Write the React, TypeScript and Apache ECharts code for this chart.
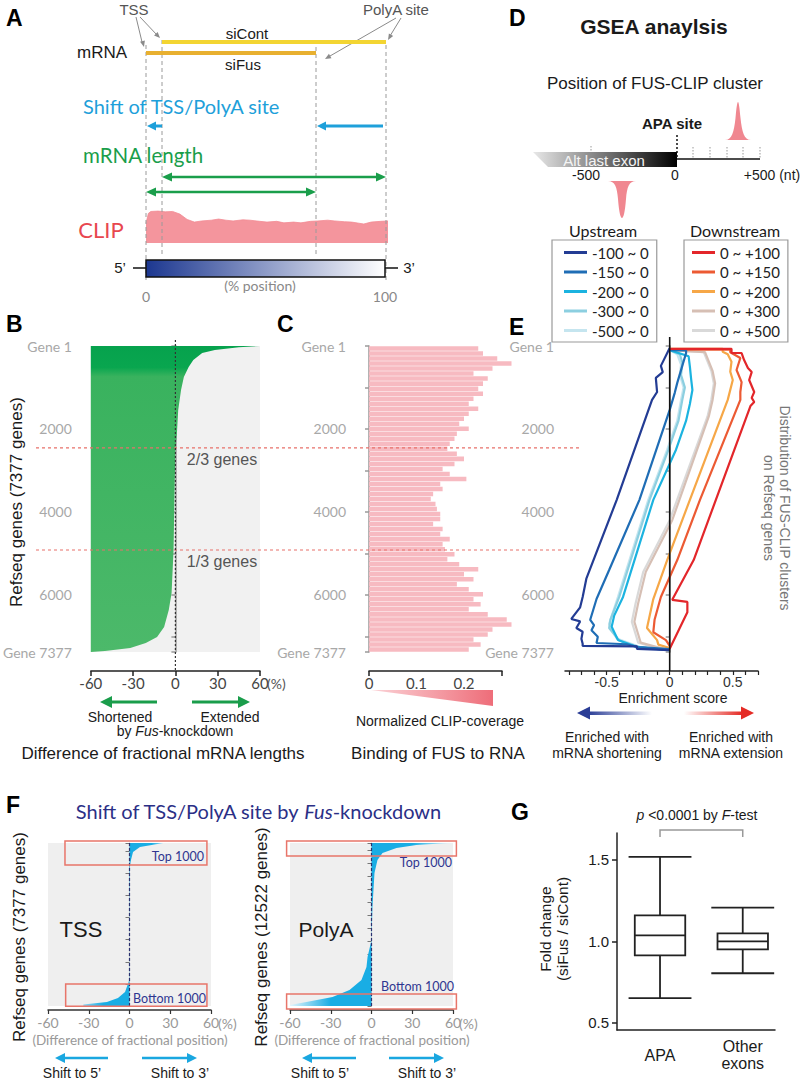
import React, { useEffect, useRef } from "react";
import * as echarts from "echarts";

const ARIAL = "'Liberation Sans', Arial, Helvetica, sans-serif";
const CALI = "Lato, 'Open Sans', sans-serif";

// ---------------- Panel A: CLIP coverage along mRNA (% position) ----------------
const clipPosition = [0, 1, 2, 5, 8, 11, 14, 17, 20, 23, 27, 30, 33, 36, 40, 43, 47, 50, 54, 57, 61, 64, 68, 71, 75, 78, 82, 85, 88, 90, 93, 97, 100];
const clipCoverage = [0.52, 0.78, 0.83, 0.84, 0.82, 0.83, 0.76, 0.62, 0.55, 0.58, 0.6, 0.63, 0.6, 0.58, 0.61, 0.6, 0.57, 0.55, 0.57, 0.53, 0.55, 0.53, 0.57, 0.58, 0.6, 0.58, 0.56, 0.55, 0.52, 0.5, 0.55, 0.57, 0.58];

// ---------------- Panel B: difference of fractional mRNA lengths ----------------
const geneTotal = 7377;
const geneLabelTicks = [1, 2000, 4000, 6000, 7377];
const geneTickMarks = [1, 1000, 2000, 3000, 4000, 5000, 6000, 7000, 7377];
const lengthRank = [1, 30, 96, 169, 337, 506, 747, 1060, 1542, 2097, 2482, 3711, 4916, 5953, 6362, 6772, 7013, 7158, 7278, 7350, 7377];
const lengthDiff = [60, 45, 28, 19, 12.7, 9.4, 6, 4, 2, 1.1, 0, -0.7, -1.3, -2.7, -4.7, -8, -13, -21, -32, -50, -60];

// ---------------- Panel C: normalized CLIP coverage per gene bin ----------------
const clipCoverageByGene = [
  0.23, 0.24, 0.27, 0.3, 0.26, 0.22, 0.25, 0.24, 0.23, 0.24,
  0.22, 0.21, 0.23, 0.21, 0.2, 0.19, 0.21, 0.185, 0.18, 0.17,
  0.165, 0.185, 0.2, 0.18, 0.155, 0.17, 0.205, 0.15, 0.155, 0.135,
  0.13, 0.14, 0.143, 0.15, 0.15, 0.135, 0.155, 0.15, 0.17, 0.155,
  0.16, 0.18, 0.165, 0.19, 0.23, 0.2, 0.22, 0.185, 0.21, 0.24,
  0.22, 0.235, 0.21, 0.25, 0.29, 0.3, 0.26, 0.25, 0.22, 0.235,
  0.21,
];
const clipBins = clipCoverageByGene.map((_, i) => `bin${i + 1}`);

// ---------------- Panel E: GSEA running enrichment score [score, gene rank] ----------------
const upNames = ["-100 ~ 0", "-150 ~ 0", "-200 ~ 0", "-300 ~ 0", "-500 ~ 0"];
const downNames = ["0 ~ +100", "0 ~ +150", "0 ~ +200", "0 ~ +300", "0 ~ +500"];
const upColors = ["#233c94", "#1f6db5", "#1bb3e0", "#8ccfe0", "#c5e5ef"];
const downColors = ["#e3262a", "#ec5a33", "#f6a747", "#d6bfb4", "#d9d9d9"];
const esUp100 = [[0, 50], [-0.07, 480], [-0.055, 630], [-0.11, 770], [-0.1, 1110], [-0.14, 1300], [-0.42, 3710], [-0.66, 5600], [-0.69, 6050], [-0.71, 6300], [-0.78, 6580], [-0.71, 6640], [-0.74, 6800], [-0.69, 6890], [-0.7, 7060], [-0.69, 7180], [-0.69, 7230], [-0.26, 7240], [-0.26, 7300], [0, 7330]];
const esUp150 = [[0, 100], [0.13, 110], [0.13, 170], [0.06, 890], [0.04, 1130], [0, 1540], [-0.24, 3710], [-0.48, 5400], [-0.58, 6100], [-0.63, 6600], [-0.6, 6730], [-0.62, 6850], [-0.57, 7010], [-0.58, 7160], [-0.34, 7190], [-0.25, 7260], [0, 7310]];
const esUp200 = [[0, 100], [0.15, 250], [0.16, 500], [0.17, 800], [0.18, 1060], [0.16, 1400], [0.13, 1800], [0.05, 2500], [-0.13, 3710], [-0.37, 6050], [-0.44, 6500], [-0.46, 6770], [-0.41, 7090], [-0.26, 7260], [0, 7330]];
const esUp300 = [[0, 100], [0.08, 200], [0.1, 400], [0.09, 700], [0.12, 1000], [0.1, 1300], [0.07, 1800], [-0.01, 2500], [-0.16, 3710], [-0.4, 6050], [-0.47, 6600], [-0.48, 6800], [-0.4, 7100], [-0.24, 7260], [0, 7330]];
const esUp500 = [[0, 100], [0.06, 200], [0.09, 450], [0.08, 700], [0.11, 1000], [0.09, 1300], [0.06, 1800], [-0.02, 2500], [-0.17, 3710], [-0.41, 6050], [-0.48, 6700], [-0.42, 7050], [-0.24, 7250], [0, 7330]];
const esDn100 = [[0, 70], [0.49, 70], [0.49, 170], [0.57, 170], [0.59, 340], [0.62, 530], [0.65, 630], [0.63, 820], [0.67, 1110], [0.65, 1250], [0.67, 1350], [0.64, 1450], [0.19, 5160], [0.02, 6120], [0.14, 6170], [0.14, 6420], [0, 7300]];
const esDn150 = [[0, 90], [0.48, 90], [0.48, 150], [0.56, 290], [0.53, 580], [0.57, 870], [0.56, 1110], [0.56, 1300], [0.24, 3710], [0.06, 5160], [-0.07, 6050], [-0.12, 6600], [-0.13, 6900], [-0.03, 7090], [0, 7230]];
const esDn200 = [[0, 70], [0.42, 70], [0.42, 140], [0.46, 200], [0.49, 380], [0.48, 620], [0.5, 820], [0.46, 1300], [0.16, 3710], [-0.02, 5160], [-0.13, 6100], [-0.18, 6800], [-0.1, 7090], [-0.09, 7200], [0, 7280]];
const esDn300 = [[0, 100], [0.28, 150], [0.34, 600], [0.36, 900], [0.34, 1300], [0.31, 1700], [0.02, 4200], [-0.19, 5450], [-0.25, 6200], [-0.28, 6650], [-0.25, 6950], [-0.23, 7150], [-0.1, 7260], [0, 7330]];
const esDn500 = [[0, 100], [0.27, 150], [0.33, 600], [0.35, 900], [0.33, 1300], [0.3, 1700], [0, 4200], [-0.21, 5450], [-0.27, 6200], [-0.3, 6650], [-0.27, 6950], [-0.25, 7150], [-0.12, 7260], [0, 7330]];
const upData = [esUp100, esUp150, esUp200, esUp300, esUp500];
const downData = [esDn100, esDn150, esDn200, esDn300, esDn500];
const esLabelTicks = [-0.5, 0, 0.5];
const esTickMarks = [-0.8, -0.7, -0.6, -0.5, -0.4, -0.3, -0.2, -0.1, 0, 0.1, 0.2, 0.3, 0.4, 0.5, 0.6, 0.7];

// ---------------- Panel F: shift of TSS / PolyA site ----------------
const tssGenes = 7377;
const tssRank = [7377, 7196, 6970, 6608, 6382, 4798, 2987, 1177, 1041, 634, 362, 181, 68, 0];
const tssShift = [25, 7.7, 2.6, 1.1, 0.4, 0.2, 0.05, -0.2, -0.9, -3.3, -8.5, -16.6, -34, -34];
const polyGenes = 12522;
const polyRank = [12522, 12450, 12365, 12134, 11750, 11213, 10214, 7603, 5069, 3763, 2995, 1997, 1229, 691, 307, 77, 0];
const polyShift = [60, 45, 33, 18.4, 8.1, 4.4, 2.2, 0.7, 0, -2.9, -3.7, -7.4, -16.2, -28.7, -47.9, -60, -60];

// ---------------- Panel G: box plot of fold change ----------------
const boxPositions = [1, 2];
const boxLabels = ["APA", "Other\nexons"];
const boxMin = [0.652, 0.805];
const boxQ1 = [0.915, 0.951];
const boxMedian = [1.037, 1.0];
const boxQ3 = [1.16, 1.05];
const boxMax = [1.518, 1.207];
const foldTicks = [0.5, 1.0, 1.5];

// ---------------- shapes ----------------
echarts.graphic.registerShape(
  "peakUp",
  echarts.graphic.extendPath("M0 38 C7 38 9 30 10.5 16 C11.5 5 12.2 0 13 0 C13.8 0 14.5 5 15.5 16 C17 30 19 38 26 38 Z", {})
);
echarts.graphic.registerShape(
  "peakDown",
  echarts.graphic.extendPath("M0 0 L28 0 C21 0 19 6 18 18 C17 31 15.5 37 14 37 C12.5 37 11 31 10 18 C9 6 7 0 0 0 Z", {})
);

// ---------------- helpers ----------------
const txt = (x: number, y: number, text: string, size: number, o: any = {}) => ({
  type: "text",
  x,
  y,
  rotation: o.rot || 0,
  silent: true,
  z: o.z || 10,
  style: {
    text,
    fill: o.fill || "#1a1a1a",
    fontSize: size,
    fontFamily: o.family || ARIAL,
    fontWeight: o.weight || "normal",
    fontStyle: o.fstyle || "normal",
    align: o.align || "center",
    verticalAlign: o.va || "middle",
    lineHeight: o.lh,
    rich: o.rich,
  },
});
const ln = (x1: number, y1: number, x2: number, y2: number, stroke: string, w = 1, dash?: number[], z = 10) => ({
  type: "line",
  silent: true,
  z,
  shape: { x1, y1, x2, y2 },
  style: { stroke, lineWidth: w, lineDash: dash },
});
const head = (tx: number, ty: number, fx: number, fy: number, len: number, wid: number, fill: string) => {
  const dx = tx - fx, dy = ty - fy;
  const d = Math.hypot(dx, dy) || 1;
  const ux = dx / d, uy = dy / d;
  const bx = tx - ux * len, by = ty - uy * len;
  const nx = (-uy * wid) / 2, ny = (ux * wid) / 2;
  return { type: "polygon", silent: true, z: 10, shape: { points: [[tx, ty], [bx + nx, by + ny], [bx - nx, by - ny]] }, style: { fill } };
};
const arrow = (x1: number, y1: number, x2: number, y2: number, color: string, w: number, len: number, wid: number, both = false) => {
  const d = Math.hypot(x2 - x1, y2 - y1);
  const ux = (x2 - x1) / d, uy = (y2 - y1) / d;
  const sx = both ? x1 + ux * len * 0.8 : x1, sy = both ? y1 + uy * len * 0.8 : y1;
  const ex = x2 - ux * len * 0.8, ey = y2 - uy * len * 0.8;
  const els: any[] = [ln(sx, sy, ex, ey, color, w), head(x2, y2, x1, y1, len, wid, color)];
  if (both) els.push(head(x1, y1, x2, y2, len, wid, color));
  return els;
};
const hGrad = (stops: [number, string][]) => ({
  type: "linear", x: 0, y: 0, x2: 1, y2: 0,
  colorStops: stops.map(([offset, color]) => ({ offset, color })),
});
const vGrad = (stops: [number, string][]) => ({
  type: "linear", x: 0, y: 0, x2: 0, y2: 1,
  colorStops: stops.map(([offset, color]) => ({ offset, color })),
});

const areaSeries = (xIdx: number, yIdx: number, ranks: number[], vals: number[], base: number, fill: any, extra: any = {}) => ({
  type: "custom",
  xAxisIndex: xIdx,
  yAxisIndex: yIdx,
  silent: true,
  z: 2,
  data: ranks.map((g, i) => [vals[i], g]),
  encode: { x: 0, y: 1 },
  renderItem: (params: any, api: any) => {
    if (params.dataIndex !== 0) return null;
    const pts: number[][] = [api.coord([base, ranks[0]])];
    ranks.forEach((g, i) => pts.push(api.coord([vals[i], g])));
    pts.push(api.coord([base, ranks[ranks.length - 1]]));
    return { type: "polygon", shape: { points: pts }, style: { fill } };
  },
  ...extra,
});

const geneYAxis = (gridIndex: number, offset: number, margin: number) => ({
  type: "value",
  gridIndex,
  min: 1,
  max: geneTotal,
  inverse: true,
  offset,
  splitLine: { show: false },
  axisLine: { show: true, lineStyle: { color: "#9a9a9a", width: 1.5 } },
  axisTick: { show: true, length: 4, customValues: geneTickMarks, lineStyle: { color: "#9a9a9a", width: 1.5 } },
  axisLabel: {
    show: true,
    customValues: geneLabelTicks,
    margin,
    color: "#a8a8a8",
    fontFamily: CALI,
    fontSize: 14,
    formatter: (v: number) => (v === 1 ? "Gene 1" : v === geneTotal ? `Gene ${geneTotal}` : String(v)),
  },
});

// ---------------- static decorations ----------------
function staticGraphics(): any[] {
  const g: any[] = [];
  const letter = (x: number, y: number, s: string) => g.push(txt(x, y, s, 23, { weight: "bold", align: "left", va: "top", fill: "#000" }));
  // ---- Panel A ----
  letter(6, 6, "A");
  g.push(txt(134, 9, "TSS", 15, { fill: "#555" }));
  g.push(txt(363, 9, "PolyA site", 15, { fill: "#555", align: "left" }));
  g.push(ln(136, 17, 142, 42, "#8a8a8a", 1), head(144, 47, 136, 17, 6, 5, "#8a8a8a"));
  g.push(ln(140, 17, 157, 35, "#8a8a8a", 1), head(160, 38, 140, 17, 6, 5, "#8a8a8a"));
  g.push(ln(401, 18, 390, 36, "#8a8a8a", 1), head(388, 40, 401, 18, 6, 5, "#8a8a8a"));
  g.push(ln(396, 18, 330, 56, "#8a8a8a", 1), head(325, 59, 396, 18, 6, 5, "#8a8a8a"));
  [146, 386].forEach((x) => g.push(ln(x, 45, x, 280, "#9a9a9a", 1, [4, 3])));
  [162, 316].forEach((x) => g.push(ln(x, 40, x, 257, "#9a9a9a", 1, [4, 3])));
  g.push(ln(162, 42, 386, 42, "#f3d532", 4, undefined, 11));
  g.push(ln(146, 53, 316, 53, "#e8b030", 4, undefined, 11));
  g.push(txt(247, 33, "siCont", 15));
  g.push(txt(243, 64, "siFus", 15));
  g.push(txt(102, 52, "mRNA", 17));
  g.push(txt(83, 106, "Shift of TSS/PolyA site", 20, { family: CALI, fill: "#1ea0da", align: "left" }));
  g.push(...arrow(162, 126, 147, 126, "#1ea0da", 3, 9, 9));
  g.push(...arrow(383, 126, 317, 126, "#1ea0da", 3, 9, 9));
  g.push(txt(83, 155, "mRNA length", 20.5, { family: CALI, fill: "#1a9e4b", align: "left" }));
  g.push(...arrow(162, 177, 386, 177, "#1a9e4b", 2.5, 10, 9, true));
  g.push(...arrow(146, 192, 316, 192, "#1a9e4b", 2.5, 10, 9, true));
  g.push(txt(101, 229, "CLIP", 22, { family: CALI, fill: "#e8474f" }));
  g.push({
    type: "rect", silent: true, z: 10,
    shape: { x: 146, y: 260, width: 239, height: 17 },
    style: { fill: hGrad([[0, "#1c3790"], [1, "#ffffff"]]), stroke: "#111", lineWidth: 1.5 },
  });
  g.push(ln(133, 268, 146, 268, "#111", 1.5), ln(385, 268, 398, 268, "#111", 1.5));
  g.push(txt(120, 267, "5\u2019", 15), txt(409, 267, "3\u2019", 15));
  g.push(txt(260, 285, "(% position)", 14, { family: CALI, fill: "#888" }));
  g.push(txt(146, 296, "0", 14, { family: CALI, fill: "#888" }), txt(385, 296, "100", 14, { family: CALI, fill: "#888" }));

  // ---- Panel D ----
  letter(509, 6, "D");
  g.push(txt(654, 26, "GSEA anaylsis", 21, { weight: "bold" }));
  g.push(txt(655, 83, "Position of FUS-CLIP cluster", 17));
  g.push(txt(672, 123, "APA site", 15, { weight: "bold" }));
  g.push({ type: "peakUp", x: 725, y: 102, silent: true, z: 10, style: { fill: "#f08790" } });
  g.push({
    type: "polygon", silent: true, z: 10,
    shape: { points: [[533, 152], [677, 152], [677, 167], [548, 167]] },
    style: { fill: hGrad([[0, "#e8e8e8"], [0.55, "#6a6a6a"], [1, "#000000"]]) },
  });
  g.push(txt(604, 160, "Alt last exon", 15, { fill: "#f4f4f4" }));
  g.push(ln(677, 159, 760, 159, "#111", 1.5));
  g.push(ln(677, 135, 677, 159, "#111", 1.5, [2, 2]));
  [693, 710, 727, 743, 760].forEach((x) => g.push(ln(x, 147, x, 158, "#999", 1, [1.5, 1.5])));
  g.push(ln(591, 146, 591, 152, "#999", 1, [1.5, 1.5]));
  g.push(txt(586, 175, "-500", 14), txt(675, 175, "0", 14), txt(772, 175, "+500 (nt)", 14));
  g.push({ type: "peakDown", x: 608, y: 181, silent: true, z: 10, style: { fill: "#f08790" } });
  g.push(txt(603, 230, "Upstream", 16, { family: CALI }));
  g.push(txt(735, 230, "Downstream", 16, { family: CALI }));

  // ---- Panel B ----
  letter(6, 312, "B");
  g.push(txt(16, 502, `Refseq genes (${geneTotal} genes)`, 17, { rot: Math.PI / 2 }));
  g.push(txt(222, 459, "2/3 genes", 16, { fill: "#555" }));
  g.push(txt(222, 561, "1/3 genes", 16, { fill: "#555" }));
  g.push(txt(267, 683, "(%)", 14, { family: CALI, fill: "#555", align: "left" }));
  g.push(...arrow(157, 702, 100, 702, "#1a9d4b", 3, 12, 12));
  g.push(...arrow(192, 702, 250, 702, "#1a9d4b", 3, 12, 12));
  g.push(txt(120, 717, "Shortened", 14), txt(230, 717, "Extended", 14));
  g.push(txt(175, 731, "by {i|Fus}-knockdown", 14, { rich: { i: { fontStyle: "italic", fontSize: 14, fontFamily: ARIAL, fill: "#1a1a1a" } } }));
  g.push(txt(163, 753, "Difference of fractional mRNA lengths", 17));

  // ---- Panel C ----
  letter(277, 312, "C");
  g.push({
    type: "polygon", silent: true, z: 10,
    shape: { points: [[371, 690], [493, 690], [493, 706]] },
    style: { fill: hGrad([[0, "#fbd3d7"], [1, "#ee6d79"]]) },
  });
  g.push(txt(440, 721, "Normalized CLIP-coverage", 14));
  g.push(txt(438, 753, "Binding of FUS to RNA", 17));

  // ---- Panel E ----
  letter(509, 315, "E");
  g.push(txt(673, 698, "Enrichment score", 14));
  g.push({ type: "rect", silent: true, z: 10, shape: { x: 588, y: 711.5, width: 64, height: 3.5 }, style: { fill: hGrad([[0, "#2a3d96"], [1, "rgba(42,61,150,0)"]]) } });
  g.push(head(577, 713, 600, 713, 13, 13, "#2a3d96"));
  g.push({ type: "rect", silent: true, z: 10, shape: { x: 684, y: 711.5, width: 58, height: 3.5 }, style: { fill: hGrad([[0, "rgba(229,43,37,0)"], [1, "#e52b25"]]) } });
  g.push(head(754, 713, 730, 713, 13, 13, "#e52b25"));
  g.push(txt(607, 737, "Enriched with", 14), txt(607, 753, "mRNA shortening", 14));
  g.push(txt(731, 737, "Enriched with", 14), txt(731, 753, "mRNA extension", 14));
  g.push(txt(785, 508, "Distribution of FUS-CLIP clusters", 14, { rot: -Math.PI / 2, fill: "#777" }));
  g.push(txt(769, 508, "on Refseq genes", 14, { rot: -Math.PI / 2, fill: "#777" }));

  // ---- Panel F ----
  letter(6, 793, "F");
  g.push(txt(258, 811, "Shift of TSS/PolyA site by {i|Fus}-knockdown", 20, {
    family: CALI, fill: "#2b2f86",
    rich: { i: { fontStyle: "italic", fontSize: 20, fontFamily: CALI, fill: "#2b2f86" } },
  }));
  g.push(txt(19, 937, `Refseq genes (${tssGenes} genes)`, 17, { rot: Math.PI / 2 }));
  g.push(txt(261, 937, `Refseq genes (${polyGenes} genes)`, 17, { rot: Math.PI / 2 }));
  g.push(txt(81, 929, "TSS", 22));
  g.push(txt(326, 929, "PolyA", 21));
  g.push(txt(204, 856, "Top 1000", 12.5, { family: CALI, fill: "#2e3590", align: "right" }));
  g.push(txt(206, 998, "Bottom 1000", 12.5, { family: CALI, fill: "#2e3590", align: "right" }));
  g.push(txt(452, 862, "Top 1000", 12.5, { family: CALI, fill: "#2e3590", align: "right" }));
  g.push(txt(454, 986, "Bottom 1000", 12.5, { family: CALI, fill: "#2e3590", align: "right" }));
  g.push(txt(218, 1023, "(%)", 14, { family: CALI, fill: "#999", align: "left" }));
  g.push(txt(459, 1023, "(%)", 14, { family: CALI, fill: "#999", align: "left" }));
  g.push(txt(130, 1040, "(Difference of fractional position)", 13.5, { family: CALI, fill: "#999" }));
  g.push(txt(372, 1040, "(Difference of fractional position)", 13.5, { family: CALI, fill: "#999" }));
  g.push(...arrow(108, 1058, 55, 1058, "#1aa7e0", 2.5, 10, 10));
  g.push(...arrow(142, 1058, 197, 1058, "#1aa7e0", 2.5, 10, 10));
  g.push(...arrow(356, 1058, 302, 1058, "#1aa7e0", 2.5, 10, 10));
  g.push(...arrow(389, 1058, 444, 1058, "#1aa7e0", 2.5, 10, 10));
  g.push(txt(72, 1073, "Shift to 5\u2019", 14), txt(180, 1073, "Shift to 3\u2019", 14));
  g.push(txt(320, 1073, "Shift to 5\u2019", 14), txt(427, 1073, "Shift to 3\u2019", 14));

  // ---- Panel G ----
  letter(511, 800, "G");
  g.push(txt(697, 815, "{i|p} <0.0001 by {i|F}-test", 14, {
    rich: { i: { fontStyle: "italic", fontSize: 14, fontFamily: ARIAL, fill: "#1a1a1a" } },
  }));
  g.push(txt(545, 929, "Fold change", 15.5, { rot: Math.PI / 2 }));
  g.push(txt(562, 929, "(siFus / siCont)", 15.5, { rot: Math.PI / 2 }));
  return g;
}

function buildOption(overlay: any[]) {
  const eSeries: any[] = [];
  // draw light curves first, saturated ones on top
  const drawOrder = [
    [downNames[4], downColors[4], downData[4]],
    [downNames[3], downColors[3], downData[3]],
    [upNames[4], upColors[4], upData[4]],
    [upNames[3], upColors[3], upData[3]],
    [upNames[2], upColors[2], upData[2]],
    [downNames[2], downColors[2], downData[2]],
    [downNames[1], downColors[1], downData[1]],
    [upNames[1], upColors[1], upData[1]],
    [upNames[0], upColors[0], upData[0]],
    [downNames[0], downColors[0], downData[0]],
  ] as [string, string, number[][]][];
  drawOrder.forEach(([name, color, data], i) =>
    eSeries.push({
      type: "line",
      name,
      xAxisIndex: 3,
      yAxisIndex: 4,
      data,
      showSymbol: false,
      symbol: "none",
      z: 3 + i,
      lineStyle: { color, width: 2.2 },
      itemStyle: { color },
    })
  );

  return {
    animation: false,
    backgroundColor: "#ffffff",
    textStyle: { fontFamily: ARIAL },
    grid: [
      { left: 146, top: 205, width: 242, height: 38 }, // A clip
      { left: 81, top: 346, width: 179, height: 306, show: true, backgroundColor: "#f1f1f1", borderWidth: 0 }, // B
      { left: 369, top: 346, width: 133, height: 306 }, // C
      { left: 565, top: 346, width: 193, height: 306 }, // E
      { left: 48, top: 843, width: 163, height: 163, show: true, backgroundColor: "#efefef", borderWidth: 0 }, // F TSS
      { left: 290, top: 843, width: 163, height: 163, show: true, backgroundColor: "#efefef", borderWidth: 0 }, // F PolyA
      { left: 617, top: 833, width: 158, height: 197 }, // G
    ],
    xAxis: [
      { type: "value", gridIndex: 0, min: 0, max: 100, show: false },
      {
        type: "value", gridIndex: 1, min: -60, max: 60, interval: 30, offset: 19,
        splitLine: { show: false },
        axisLine: { show: true, onZero: false, lineStyle: { color: "#222", width: 1.5 } },
        axisTick: { show: true, length: 5, lineStyle: { color: "#222", width: 1.5 } },
        axisLabel: { color: "#444", fontFamily: CALI, fontSize: 15, margin: 4 },
      },
      {
        type: "value", gridIndex: 2, min: 0, max: 0.28, offset: 19,
        splitLine: { show: false },
        axisLine: { show: true, onZero: false, lineStyle: { color: "#222", width: 1.5 } },
        axisTick: { show: true, length: 5, customValues: [0, 0.28], lineStyle: { color: "#222", width: 1.5 } },
        axisLabel: { customValues: [0, 0.1, 0.2], color: "#444", fontFamily: CALI, fontSize: 15, margin: 4 },
      },
      {
        type: "value", gridIndex: 3, min: -0.83, max: 0.7, offset: 19,
        splitLine: { show: false },
        axisLine: { show: true, onZero: false, lineStyle: { color: "#222", width: 1.5 } },
        axisTick: { show: true, length: 4, customValues: esTickMarks, lineStyle: { color: "#222", width: 1.2 } },
        axisLabel: { customValues: esLabelTicks, color: "#333", fontFamily: ARIAL, fontSize: 14, margin: 4, formatter: (v: number) => (v === 0 ? "0" : String(v)) },
      },
      {
        type: "value", gridIndex: 4, min: -60, max: 60, interval: 30, offset: 4,
        splitLine: { show: false },
        axisLine: { show: true, onZero: false, lineStyle: { color: "#333", width: 1.5 } },
        axisTick: { show: true, length: 4, lineStyle: { color: "#333", width: 1.2 } },
        axisLabel: { color: "#999", fontFamily: CALI, fontSize: 14, margin: 5 },
      },
      {
        type: "value", gridIndex: 5, min: -60, max: 60, interval: 30, offset: 4,
        splitLine: { show: false },
        axisLine: { show: true, onZero: false, lineStyle: { color: "#333", width: 1.5 } },
        axisTick: { show: true, length: 4, lineStyle: { color: "#333", width: 1.2 } },
        axisLabel: { color: "#999", fontFamily: CALI, fontSize: 14, margin: 5 },
      },
      {
        type: "value", gridIndex: 6, min: 0.48, max: 2.39,
        splitLine: { show: false },
        axisLine: { show: true, onZero: false, lineStyle: { color: "#222", width: 1.5 } },
        axisTick: { show: false },
        axisLabel: {
          customValues: boxPositions, color: "#1a1a1a", fontFamily: ARIAL, fontSize: 16, lineHeight: 17,
          margin: 25, verticalAlign: "middle",
          formatter: (v: number) => boxLabels[Math.round(v) - 1] || "",
        },
      },
    ],
    yAxis: [
      { type: "value", gridIndex: 0, min: 0, max: 1, show: false },
      geneYAxis(1, 11, 8),
      geneYAxis(2, 14, 9),
      { type: "category", gridIndex: 2, data: clipBins, inverse: true, show: false },
      geneYAxis(3, 4, 7),
      {
        type: "value", gridIndex: 4, min: 0, max: tssGenes, interval: 1000, offset: 5,
        splitLine: { show: false },
        axisLine: { show: true, lineStyle: { color: "#cfcfcf", width: 1 } },
        axisTick: { show: true, length: 4, lineStyle: { color: "#777", width: 1 } },
        axisLabel: { show: false },
      },
      {
        type: "value", gridIndex: 5, min: 0, max: polyGenes, interval: 1000, offset: 5,
        splitLine: { show: false },
        axisLine: { show: true, lineStyle: { color: "#cfcfcf", width: 1 } },
        axisTick: { show: true, length: 4, lineStyle: { color: "#777", width: 1 } },
        axisLabel: { show: false },
      },
      {
        type: "value", gridIndex: 6, min: 0.457, max: 1.665,
        splitLine: { show: false },
        axisLine: { show: true, onZero: false, lineStyle: { color: "#222", width: 1.5 } },
        axisTick: { show: true, length: 5, customValues: foldTicks, lineStyle: { color: "#222", width: 1.5 } },
        axisLabel: { customValues: foldTicks, color: "#1a1a1a", fontFamily: ARIAL, fontSize: 15, margin: 8, formatter: (v: number) => v.toFixed(1) },
      },
    ],
    legend: [
      {
        left: 552, top: 240, orient: "vertical", data: upNames, selectedMode: false,
        icon: "rect", itemWidth: 23, itemHeight: 3, itemGap: 4.5,
        padding: [5, 8, 4, 12], borderColor: "#9a9a9a", borderWidth: 1.2,
        textStyle: { fontFamily: CALI, fontSize: 15, color: "#222", lineHeight: 13 },
      },
      {
        left: 684, top: 240, orient: "vertical", data: downNames, selectedMode: false,
        icon: "rect", itemWidth: 23, itemHeight: 3, itemGap: 4.5,
        padding: [5, 8, 4, 8], borderColor: "#9a9a9a", borderWidth: 1.2,
        textStyle: { fontFamily: CALI, fontSize: 15, color: "#222", lineHeight: 13 },
      },
    ],
    series: [
      {
        type: "line", xAxisIndex: 0, yAxisIndex: 0, silent: true,
        data: clipPosition.map((p, i) => [p, clipCoverage[i]]),
        symbol: "none", lineStyle: { width: 0.8, color: "#f28b94" },
        areaStyle: { color: "#f4959d", opacity: 1 },
      },
      areaSeries(1, 1, lengthRank, lengthDiff, -60,
        vGrad([[0, "#06a24d"], [0.07, "#09a64f"], [0.1, "#39b25e"], [1, "#4cb96a"]])),
      {
        type: "bar", xAxisIndex: 2, yAxisIndex: 3, silent: true, clip: false,
        data: clipCoverageByGene, barCategoryGap: "10%",
        itemStyle: { color: "#f7bac1" },
      },
      ...eSeries,
      areaSeries(4, 5, tssRank, tssShift, 0,
        hGrad([[0, "#8fd6f2"], [0.25, "#19ade4"], [0.85, "#19ade4"], [1, "#8fd6f2"]]),
        { markLine: { silent: true, symbol: "none", label: { show: false }, lineStyle: { color: "#2b3170", type: [3, 2], width: 1.2 }, data: [{ xAxis: 0 }] } }),
      areaSeries(5, 6, polyRank, polyShift, 0,
        hGrad([[0, "#e4f5fc"], [0.25, "#19ade4"], [0.75, "#19ade4"], [1, "#e4f5fc"]]),
        { markLine: { silent: true, symbol: "none", label: { show: false }, lineStyle: { color: "#2b3170", type: [3, 2], width: 1.2 }, data: [{ xAxis: 0 }] } }),
      {
        type: "custom", xAxisIndex: 6, yAxisIndex: 7, silent: true,
        data: boxPositions.map((p, i) => [p, boxMin[i], boxQ1[i], boxMedian[i], boxQ3[i], boxMax[i]]),
        encode: { x: 0, y: [1, 2, 3, 4, 5] },
        renderItem: (params: any, api: any) => {
          const x = api.value(0);
          const pMin = api.coord([x, api.value(1)]);
          const pQ1 = api.coord([x, api.value(2)]);
          const pMed = api.coord([x, api.value(3)]);
          const pQ3 = api.coord([x, api.value(4)]);
          const pMax = api.coord([x, api.value(5)]);
          const bw = api.size([0.61, 0])[0];
          const cw = api.size([0.76, 0])[0];
          const cx = pMed[0];
          const st = { stroke: "#222", lineWidth: 1.8, fill: null };
          return {
            type: "group",
            children: [
              { type: "line", shape: { x1: cx, y1: pMax[1], x2: cx, y2: pQ3[1] }, style: st },
              { type: "line", shape: { x1: cx, y1: pQ1[1], x2: cx, y2: pMin[1] }, style: st },
              { type: "line", shape: { x1: cx - cw / 2, y1: pMax[1], x2: cx + cw / 2, y2: pMax[1] }, style: st },
              { type: "line", shape: { x1: cx - cw / 2, y1: pMin[1], x2: cx + cw / 2, y2: pMin[1] }, style: st },
              { type: "rect", shape: { x: cx - bw / 2, y: pQ3[1], width: bw, height: pQ1[1] - pQ3[1] }, style: { stroke: "#222", lineWidth: 1.8, fill: "#fff" } },
              { type: "line", shape: { x1: cx - bw / 2, y1: pMed[1], x2: cx + bw / 2, y2: pMed[1] }, style: st },
            ],
          };
        },
      },
    ],
    graphic: { elements: [...staticGraphics(), ...overlay] },
  };
}

function buildOverlay(chart: any): any[] {
  const px = (gridIndex: number, v: number[]) => chart.convertToPixel({ gridIndex }, v) as number[];
  const out: any[] = [];
  // thirds of genes (red dashed lines across B, C)
  [geneTotal / 3, (2 * geneTotal) / 3].forEach((g) => {
    const y = px(1, [0, g])[1];
    out.push(ln(36, y, 580, y, "#e8706a", 1.2, [3, 3], 50));
  });
  // B zero line
  const bx = px(1, [0, 1])[0];
  out.push(ln(bx, 340, bx, 671, "#333", 1.2, [2, 2], 50));
  // E zero line
  const ex = px(3, [0, 1])[0];
  out.push(ln(ex, 337, ex, 671, "#111", 1.6, undefined, 50));
  // F top/bottom 1000 boxes
  const box = (gi: number, x1: number, g1: number, x2: number, g2: number) => {
    const a = px(gi, [x1, g1]);
    const b = px(gi, [x2, g2]);
    out.push({
      type: "rect", silent: true, z: 50,
      shape: { x: Math.min(a[0], b[0]), y: Math.min(a[1], b[1]), width: Math.abs(b[0] - a[0]), height: Math.abs(b[1] - a[1]) },
      style: { fill: "none", stroke: "#e8756a", lineWidth: 1.5 },
    });
  };
  box(4, -47.5, tssGenes - 1000, 57, tssGenes + 90);
  box(4, -47, -10, 57, 1000);
  box(5, -62.5, polyGenes - 1000, 62.5, polyGenes + 150);
  box(5, -62.5, -230, 62.5, 920);
  // G bracket
  const g1 = px(6, [boxPositions[0], 1.6]);
  const g2 = px(6, [boxPositions[1], 1.6]);
  out.push({
    type: "polyline", silent: true, z: 50,
    shape: { points: [[g1[0], 837], [g1[0], 830], [g2[0], 830], [g2[0], 837]] },
    style: { stroke: "#999", lineWidth: 1.5, fill: null },
  });
  return out;
}

export default function App() {
  const ref = useRef<HTMLDivElement>(null);
  useEffect(() => {
    const el = ref.current;
    if (!el) return;
    const chart = echarts.init(el, null, { renderer: "svg" });
    chart.setOption(buildOption([]));
    const overlay = buildOverlay(chart);
    chart.setOption(buildOption(overlay), true);
    return () => chart.dispose();
  }, []);
  return (
    <div
      ref={ref}
      style={{ position: "absolute", left: 0, top: 0, width: 800, height: 1082, background: "#fff" }}
    />
  );
}
